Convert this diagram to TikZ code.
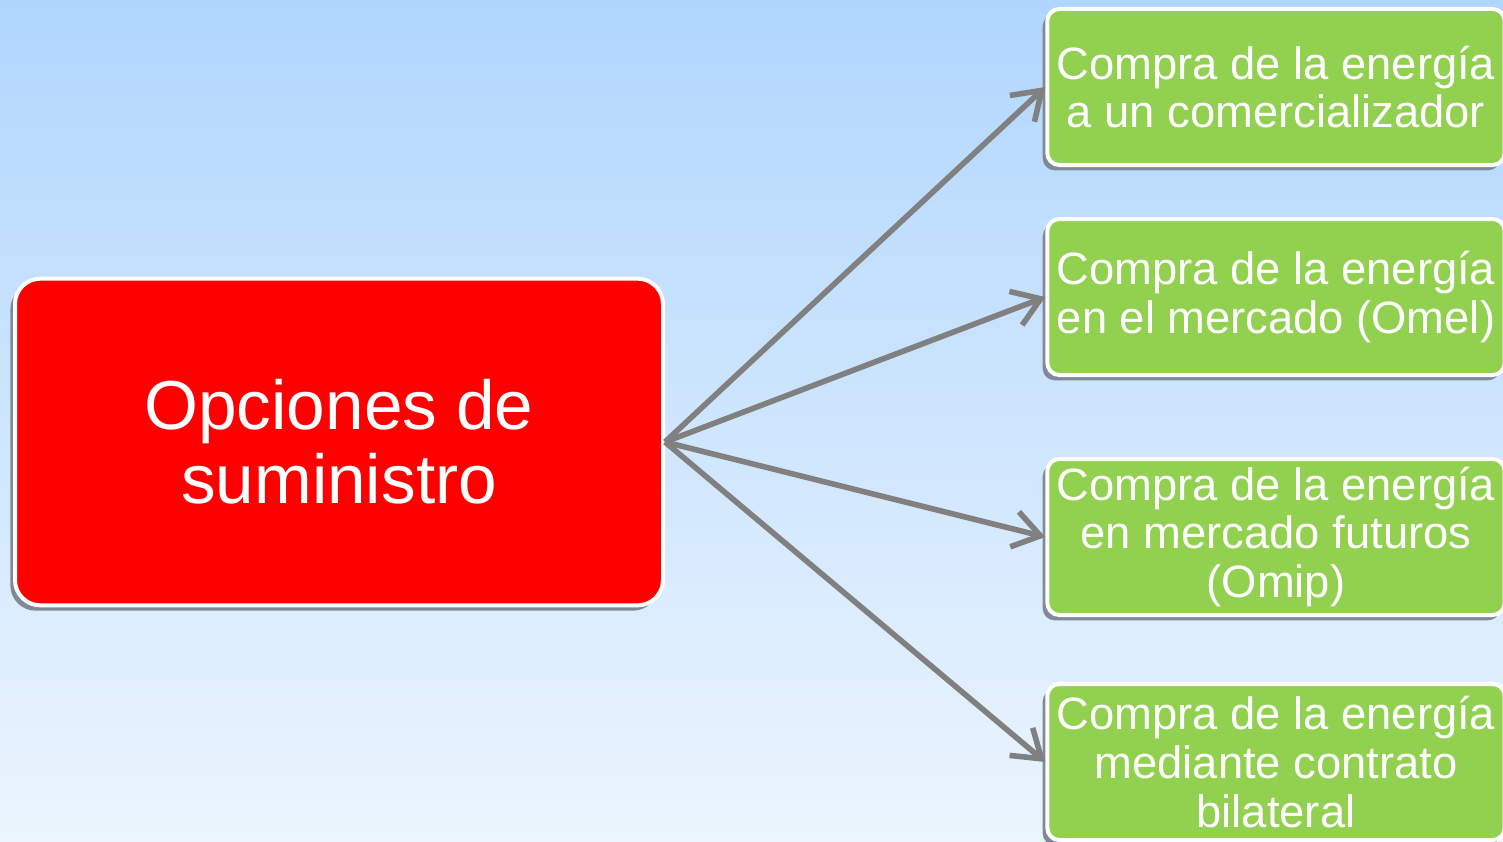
\documentclass[tikz,border=0pt]{standalone}
\usepackage{fontspec}
\setmainfont{Liberation Sans}
\usetikzlibrary{arrows.meta,shadows}
\definecolor{bgtop}{RGB}{176,214,253}
\definecolor{bgbot}{RGB}{236,245,254}
\definecolor{boxred}{RGB}{255,0,0}
\definecolor{boxgreen}{RGB}{146,208,80}
\definecolor{shadowgray}{RGB}{128,138,150}
\definecolor{arrowgray}{RGB}{128,128,128}
\tikzset{
  px/.style={x=0.75pt,y=-0.75pt},
  mainbox/.style={draw=white, line width=3pt, fill=boxred, rounded corners=19pt,
    minimum width=486pt, minimum height=245pt, text=white, align=center,
    font=\fontsize{52}{55.5}\selectfont,
    drop shadow={shadow xshift=-3.5pt, shadow yshift=-4pt, fill=shadowgray, opacity=1}},
  optbox/.style={draw=white, line width=3pt, fill=boxgreen, rounded corners=9pt,
    minimum width=343pt, minimum height=117pt, text=white, align=center, inner sep=0pt,
    font=\fontsize{34}{36.5}\selectfont,
    drop shadow={shadow xshift=-3.5pt, shadow yshift=-4pt, fill=shadowgray, opacity=1}},
  conn/.style={draw=arrowgray, line width=4.2pt,
    -{Straight Barb[length=20pt, width=27pt, line width=4.2pt]}}
}
\begin{document}
\begin{tikzpicture}[px]
\useasboundingbox (0,0) rectangle (1503,842);
\clip (0,0) rectangle (1503,842);
\shade[top color=bgtop, bottom color=bgbot] (0,0) rectangle (1503,842);
\node[mainbox] (main) at (339,442) {Opciones de\\suministro};
\node[optbox] (o1) at (1276,87) {Compra de la energía\\a un comercializador};
\node[optbox] (o2) at (1276,297) {Compra de la energía\\en el mercado (Omel)};
\node[optbox] (o3) at (1276,537) {Compra de la energía\\en mercado futuros\\(Omip)};
\node[optbox] (o4) at (1276,762) {Compra de la energía\\mediante contrato\\bilateral};
\draw[conn] (main.east) -- (o1.west);
\draw[conn] (main.east) -- (o2.west);
\draw[conn] (main.east) -- (o3.west);
\draw[conn] (main.east) -- (o4.west);
\end{tikzpicture}
\end{document}
